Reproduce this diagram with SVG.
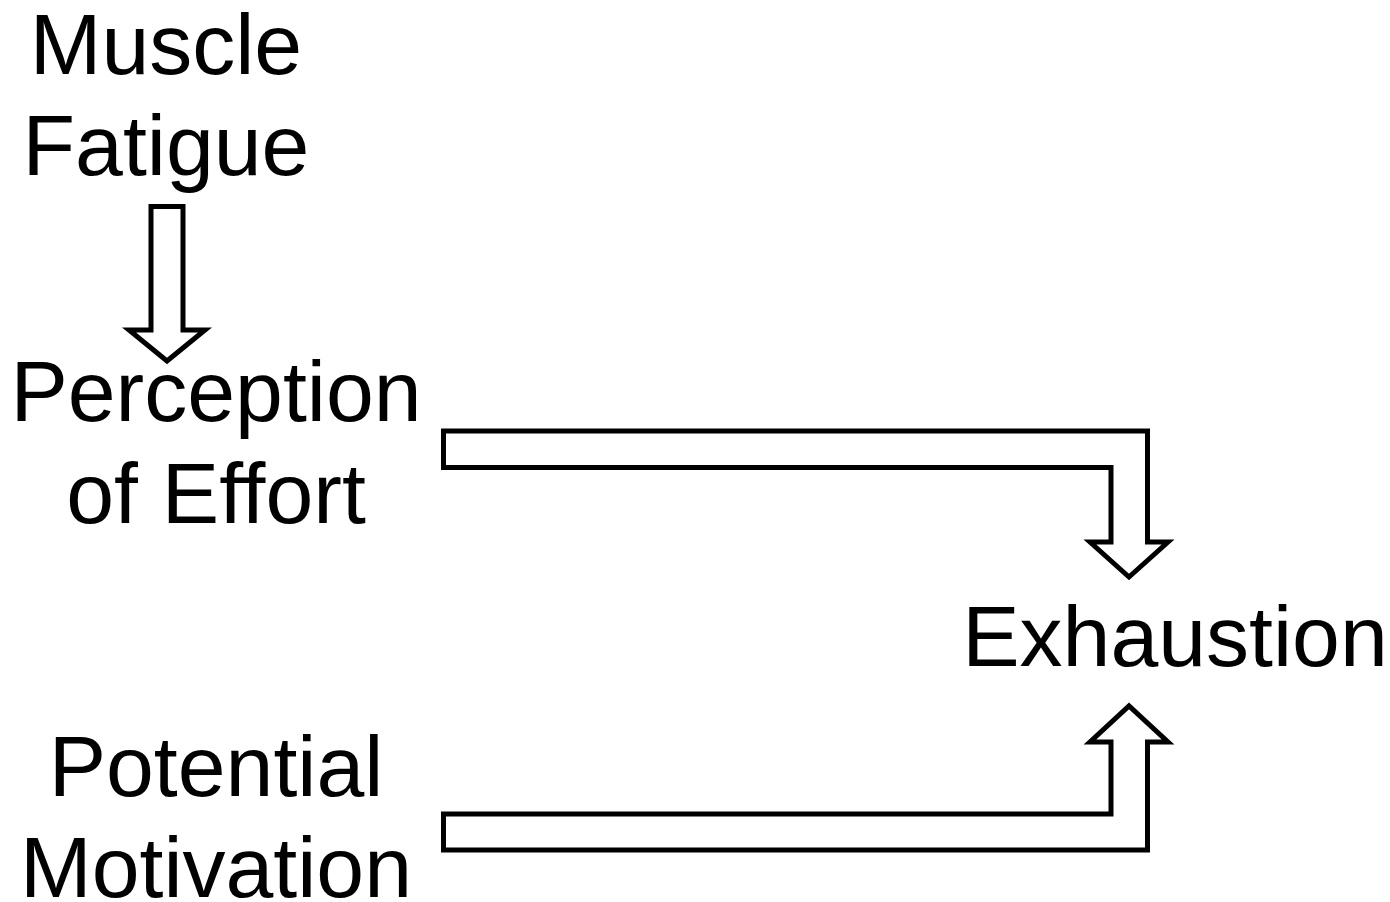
<svg xmlns="http://www.w3.org/2000/svg" width="1390" height="902" viewBox="0 0 1390 902">
<style>
.t{font-family:"Liberation Sans",Arial,sans-serif;font-size:86px;fill:#000;text-anchor:middle}
.a{fill:#fff;stroke:#000;stroke-width:5;stroke-linejoin:miter}
</style>
<rect width="1390" height="902" fill="#fff"/>
<g id="muscle-fatigue"><text class="t" x="166" y="74">Muscle</text><text class="t" x="166" y="175">Fatigue</text></g>
<g id="perception"><text class="t" x="216" y="421">Perception</text><text class="t" x="216" y="523">of Effort</text></g>
<g id="exhaustion"><text class="t" x="1175" y="666">Exhaustion</text></g>
<g id="motivation"><text class="t" x="216" y="796">Potential</text><text class="t" x="216" y="897">Motivation</text></g>
<g id="connectors">
<path class="a" d="M151,206.5 L183,206.5 L183,330 L205,330 L167,361 L129,330 L151,330 Z"/>
<path class="a" d="M443.5,431 L1147.5,431 L1147.5,542 L1168,542 L1129,577 L1090,542 L1111,542 L1111,467.5 L443.5,467.5 Z"/>
<path class="a" d="M443.5,850 L1147.5,850 L1147.5,742 L1168,742 L1129,706 L1090,742 L1111,742 L1111,814 L443.5,814 Z"/>
</g>
</svg>
